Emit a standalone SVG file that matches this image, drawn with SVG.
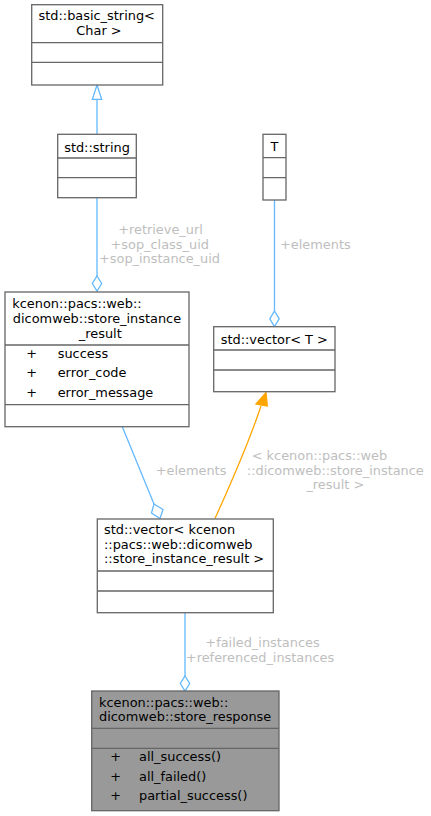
<svg xmlns="http://www.w3.org/2000/svg" width="431" height="816" viewBox="0 0 431 816">
<style>
text{font-family:"DejaVu Sans","Liberation Sans",sans-serif;font-size:12.9px;fill:#000}
.c{text-anchor:middle}
.lbl{fill:#bebebe}
.box{fill:#fff;stroke:#666;stroke-width:1.3}
.cur{fill:#999;stroke:#666;stroke-width:1.3}
.div{stroke:#666;stroke-width:1.3;fill:none}
.e{fill:none;stroke:#63b8ff;stroke-width:1.3}
.dia{fill:#fff;stroke:#63b8ff;stroke-width:1.3}
.o{fill:none;stroke:#ffa500;stroke-width:1.3}
</style>
<rect width="431" height="816" fill="#fff"/>
<g id="connectors">
  <path class="e" d="M97,99.3 V134.3"/>
  <polygon class="dia" points="97,85 101.7,99.3 92.3,99.3"/>
  <path class="e" d="M97,197.7 V276"/>
  <polygon class="dia" points="97,276 101.7,283.5 97,291 92.3,283.5"/>
  <path class="e" d="M274.5,200 V311"/>
  <polygon class="dia" points="274.5,311 279.2,318.8 274.5,326.7 269.8,318.8"/>
  <path class="e" d="M122.3,426.7 L154,504"/>
  <polygon class="dia" points="154,504 163,509.5 160,518.5 151.5,513"/>
  <path class="o" d="M215,518.5 C227,492 249,442 261,406"/>
  <polygon fill="#ffa500" stroke="#ffa500" stroke-width="1.3" points="266,392.5 267.3,406 256,404"/>
  <path class="e" d="M185,612.7 V676"/>
  <polygon class="dia" points="185,676 189.7,683.5 185,691 180.3,683.5"/>
  <text class="lbl c" x="160.5" y="234">+retrieve_url</text>
  <text class="lbl c" x="159.7" y="248.5">+sop_class_uid</text>
  <text class="lbl c" x="159.5" y="263">+sop_instance_uid</text>
  <text class="lbl" x="280" y="249">+elements</text>
  <text class="lbl" x="155.7" y="475">+elements</text>
  <text class="lbl" x="251.7" y="460">&lt; kcenon::pacs::web</text>
  <text class="lbl c" x="335.3" y="475">::dicomweb::store_instance</text>
  <text class="lbl c" x="335.3" y="489">_result &gt;</text>
  <text class="lbl c" x="262.5" y="647">+failed_instances</text>
  <text class="lbl c" x="260" y="661.7">+referenced_instances</text>
</g>
<g id="basic_string">
  <rect class="box" x="31.7" y="4.7" width="131" height="80.3"/>
  <path class="div" d="M31.7,42.7 H162.7 M31.7,62.3 H162.7"/>
  <text class="c" x="96.7" y="20">std::basic_string&lt;</text>
  <text class="c" x="99" y="35">Char &gt;</text>
</g>
<g id="std_string">
  <rect class="box" x="57.7" y="134.3" width="78.6" height="63.4"/>
  <path class="div" d="M57.7,158 H136.3 M57.7,177.7 H136.3"/>
  <text class="c" x="97" y="151.5">std::string</text>
</g>
<g id="T">
  <rect class="box" x="263" y="134.3" width="23" height="65.7"/>
  <path class="div" d="M263,157.7 H286 M263,177.7 H286"/>
  <text class="c" x="274.5" y="151">T</text>
</g>
<g id="vector_T">
  <rect class="box" x="213.7" y="326.7" width="121.3" height="65"/>
  <path class="div" d="M213.7,350 H335 M213.7,370 H335"/>
  <text class="c" x="274.3" y="343.5">std::vector&lt; T &gt;</text>
</g>
<g id="store_instance_result">
  <rect class="box" x="5" y="292" width="184" height="134.7"/>
  <path class="div" d="M5,345 H189 M5,404.7 H189"/>
  <text x="12.3" y="308.3">kcenon::pacs::web::</text>
  <text class="c" x="97" y="323.3">dicomweb::store_instance</text>
  <text class="c" x="100.3" y="337.7">_result</text>
  <text x="26.2" y="357.5">+</text><text x="57.7" y="357.5">success</text>
  <text x="26.2" y="377.3">+</text><text x="57.7" y="377.3">error_code</text>
  <text x="26.2" y="396.8">+</text><text x="57.7" y="396.8">error_message</text>
</g>
<g id="vector_store_instance_result">
  <rect class="box" x="97.3" y="519" width="176" height="93.7"/>
  <path class="div" d="M97.3,571 H273.3 M97.3,591 H273.3"/>
  <text x="104" y="534.3">std::vector&lt; kcenon</text>
  <text x="104" y="548.6">::pacs::web::dicomweb</text>
  <text x="104" y="563.3">::store_instance_result &gt;</text>
</g>
<g id="store_response">
  <rect class="cur" x="91.7" y="691" width="187.3" height="119.7"/>
  <path class="div" d="M91.7,728.3 H279 M91.7,748.3 H279"/>
  <text x="99" y="706.5">kcenon::pacs::web::</text>
  <text x="99" y="721">dicomweb::store_response</text>
  <text x="110.3" y="760.7">+</text><text x="139" y="760.7">all_success()</text>
  <text x="110.3" y="780.7">+</text><text x="139" y="780.7">all_failed()</text>
  <text x="110.3" y="800">+</text><text x="139" y="800">partial_success()</text>
</g>
</svg>
